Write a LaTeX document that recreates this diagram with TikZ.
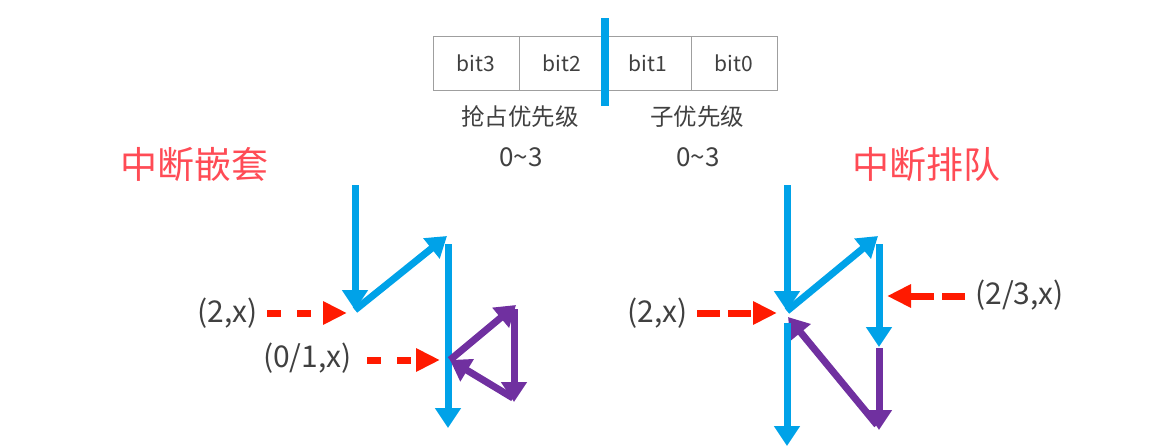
\documentclass[tikz,border=0pt]{standalone}
\usepackage{fontspec}
\setmainfont{Noto Sans CJK SC}
\usetikzlibrary{arrows.meta,positioning}
\definecolor{irqblue}{HTML}{00A2E8}
\definecolor{irqpurple}{HTML}{7030A0}
\definecolor{irqred}{HTML}{FF1A00}
\definecolor{titlered}{HTML}{FF4B55}
\definecolor{txtgray}{HTML}{404040}
\tikzset{
  bitcell/.style={draw=gray!75, line width=1pt, minimum width=86pt, minimum height=54pt,
    inner sep=0pt, outer sep=0pt, text=txtgray, font=\fontsize{21}{21}\selectfont},
  run/.style={irqblue, line width=7pt, -{Triangle[width=25pt,length=20pt]}},
  nest/.style={irqpurple, line width=7pt, -{Triangle[width=25pt,length=20pt]}},
  req/.style={irqred, line width=7pt, dash pattern=on 14pt off 16pt, -{Triangle[width=22pt,length=24pt]}},
  reqlong/.style={req, dash pattern=on 23pt off 8pt},
  lbl/.style={text=txtgray, font=\fontsize{30}{30}\selectfont, inner sep=0pt},
  sub/.style={text=txtgray, font=\fontsize{23.5}{24}\selectfont, inner sep=0pt},
  prange/.style={text=txtgray, font=\fontsize{26}{26}\selectfont, inner sep=0pt},
  title/.style={text=titlered, font=\fontsize{37}{37}\selectfont, inner sep=0pt},
}
\begin{document}
\begin{tikzpicture}[x=1pt,y=-1pt]
\useasboundingbox (0,0) rectangle (1173,447);
% priority bits
\node[bitcell] (b3) at (476,63) {bit3};
\node[bitcell, right=0pt of b3] (b2) {bit2};
\node[bitcell, right=0pt of b2] (b1) {bit1};
\node[bitcell, right=0pt of b1] (b0) {bit0};
\coordinate (bartop) at (605,18);
\coordinate (barbot) at (605,106);
\draw[irqblue, line width=8pt] (bartop) -- (barbot);
\node[sub] (pre) at (520,117) {抢占优先级};
\node[sub] (subp) at (697,117) {子优先级};
\node[prange] (prer) at (521,157) {0\textasciitilde3};
\node[prange] (subr) at (698,157) {0\textasciitilde3};
\node[title] (tnest) at (194,164) {中断嵌套};
\node[title] (tqueue) at (926,164) {中断排队};

% nesting
\coordinate (n0) at (355,185);
\coordinate (n1) at (355,310);
\coordinate (n2) at (447,236);
\coordinate (n3) at (448,244);
\coordinate (n4) at (448,428);
\coordinate (n5) at (450,360);
\coordinate (n6) at (516,305);
\coordinate (n7) at (514,309);
\coordinate (n8) at (514,402);
\coordinate (n9) at (513,398);
\draw[run] (n0) -- (n1);
\draw[run] (n1) -- (n2);
\draw[run] (n3) -- (n4);
\draw[nest] (n5) -- (n6);
\draw[nest] (n7) -- (n8);
\draw[nest] (n9) -- (n5);
\node[lbl, anchor=east] (nl1) at (258,313) {(2,x)};
\node[lbl, anchor=east] (nl2) at (352,358) {(0/1,x)};
\draw[req] (267,313) -- (347,313);
\draw[req] (367,360) -- ([xshift=-10pt]n5);

% queueing
\coordinate (q0) at (787,185);
\coordinate (q1) at (787,311);
\coordinate (q2) at (878,236);
\coordinate (q3) at (879,244);
\coordinate (q4) at (879,347);
\coordinate (q5) at (879,348);
\coordinate (q6) at (879,430);
\coordinate (q7) at (877,425);
\coordinate (q8) at (788,317);
\coordinate (q9) at (787,323);
\coordinate (q10) at (787,446);
\draw[run] (q0) -- (q1);
\draw[run] (q1) -- (q2);
\draw[run] (q3) -- (q4);
\draw[nest] (q5) -- (q6);
\draw[nest] (q7) -- (q8);
\draw[run] (q9) -- (q10);
\node[lbl, anchor=east] (ql1) at (688,313) {(2,x)};
\node[lbl, anchor=west] (ql2) at (975,295) {(2/3,x)};
\draw[reqlong] (697,313) -- (777,313);
\draw[reqlong] (965,296) -- (887,296);
\end{tikzpicture}
\end{document}
